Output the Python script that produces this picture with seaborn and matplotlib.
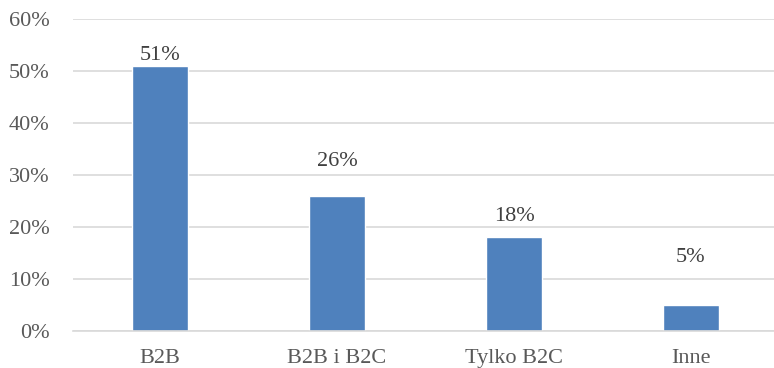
import matplotlib
matplotlib.use("Agg")
import matplotlib.pyplot as plt
import seaborn as sns
import pandas as pd
from matplotlib.ticker import FuncFormatter, MultipleLocator

# -------------------- DATA --------------------
categories = ["B2B", "B2B i B2C", "Tylko B2C", "Inne"]
values = [51, 26, 18, 5]
# label offsets above the bar top (in % units), as placed in the source
label_offsets = [1.9, 6.5, 4.1, 9.2]

df = pd.DataFrame({"kategoria": categories, "udzial": values})

# -------------------- STYLE --------------------
sns.set_style("white")
plt.rcParams["font.family"] = ["Liberation Serif", "DejaVu Serif"]
text_color = "#595959"
grid_color = "#d9d9d9"
bar_color = "#4f81bd"

fig = plt.figure(figsize=(7.74, 3.68), dpi=100)
ax = fig.add_axes([73 / 774, 37 / 368, 701 / 774, 312 / 368])

sns.barplot(data=df, x="kategoria", y="udzial", color=bar_color,
            width=0.315, saturation=1, ax=ax, zorder=3)

ax.set_ylim(0, 60)
ax.set_xlim(-0.4915, 3.469)
ax.yaxis.set_major_locator(MultipleLocator(10))
ax.yaxis.set_major_formatter(FuncFormatter(lambda v, p: f"{v:.0f}%"))
ax.grid(axis="y", color=grid_color, linewidth=1.2, zorder=0)
ax.set_axisbelow(True)

for s in ["top", "right", "left"]:
    ax.spines[s].set_visible(False)
ax.spines["bottom"].set_color(grid_color)
ax.spines["bottom"].set_linewidth(1.2)
ax.spines["bottom"].set_zorder(4)

ax.tick_params(axis="y", length=0, pad=17, labelsize=16, labelcolor=text_color)
ax.tick_params(axis="x", length=0, pad=13, labelsize=16, labelcolor=text_color)
ax.set_xlabel("")
ax.set_ylabel("")

# -------------------- LABELS --------------------
for i, (v, off) in enumerate(zip(values, label_offsets)):
    ax.text(i, v + off, f"{v}%", ha="center", va="center",
            fontsize=16, color="#404040", zorder=5)

fig.savefig("out.png", dpi=100)
